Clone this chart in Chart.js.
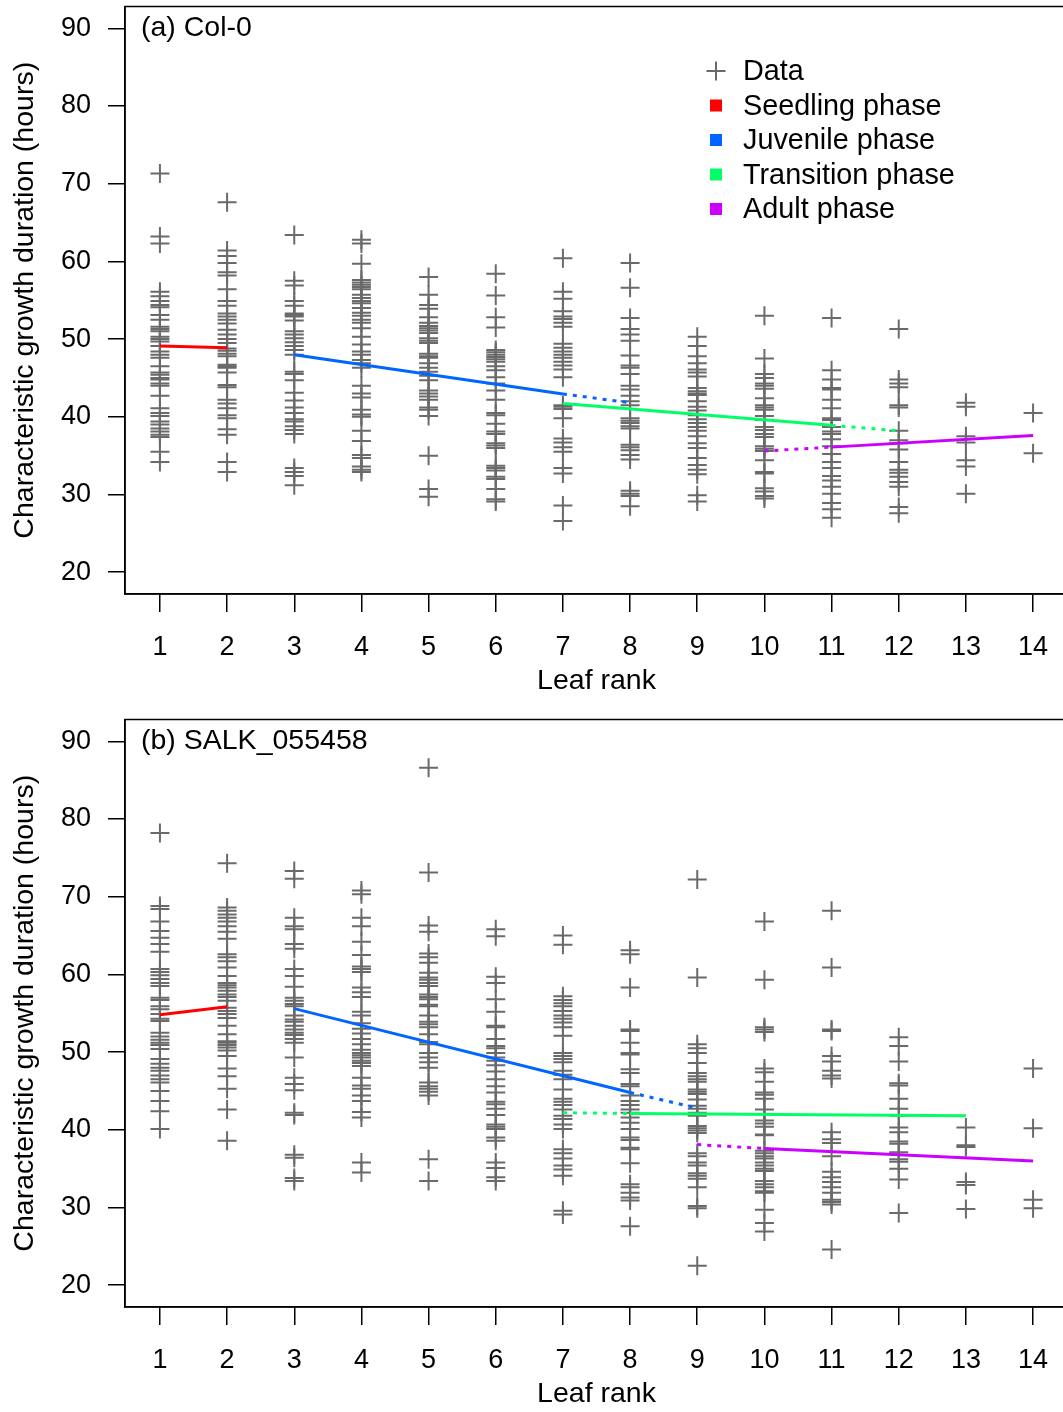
<!DOCTYPE html>
<html>
<head>
<meta charset="utf-8">
<script src="https://cdn.jsdelivr.net/npm/chart.js@4/dist/chart.umd.min.js"></script>
<style>
  html, body { margin: 0; padding: 0; background: #fff; overflow: hidden; }
  .panel { position: absolute; left: 0; width: 1070px; height: 700px; }
</style>
</head>
<body>
<div class="panel" style="top:0px"><canvas id="chartA" width="1070" height="700"></canvas></div>
<div class="panel" style="top:713px"><canvas id="chartB" width="1070" height="700"></canvas></div>
<script>
// leaf ranks and axis ticks
const leafRanks = [1, 2, 3, 4, 5, 6, 7, 8, 9, 10, 11, 12, 13, 14];
const yTicks = [20, 30, 40, 50, 60, 70, 80, 90];

// (a) Col-0 : growth durations per leaf rank (hours)
const colA = [
  [71.3,63.2,62.3,56.1,55.5,54.9,54.4,54.1,53.1,52.5,51.6,51.3,51.0,50.3,50.0,49.7,49.1,48.4,48.0,47.6,46.5,45.7,45.4,45.0,44.8,44.3,44.0,42.7,41.1,40.5,40.1,39.4,39.0,38.5,38.1,37.7,37.4,35.5,34.2],
  [67.6,61.4,60.7,59.8,58.6,58.2,56.4,54.9,54.3,53.3,52.9,52.5,52.0,51.2,50.6,50.0,49.5,48.8,48.5,48.1,47.8,46.7,46.5,46.3,45.7,44.1,43.8,42.2,41.7,41.1,40.2,39.8,38.4,37.7,34.2,32.9],
  [63.4,57.5,56.9,54.9,54.3,53.3,53.1,52.9,52.4,51.0,50.6,50.1,49.6,49.1,48.6,48.0,45.8,45.5,44.7,43.1,42.1,41.2,40.5,39.7,39.4,38.8,38.3,37.8,33.4,32.9,32.4,31.2],
  [62.8,62.3,59.7,57.6,57.3,57.0,56.7,56.4,55.7,55.3,54.9,54.6,54.0,53.4,53.0,52.5,52.1,51.4,50.3,49.3,48.4,48.0,47.3,46.9,46.3,44.0,43.0,42.5,40.9,40.3,40.0,38.2,36.9,35.1,34.7,33.6,33.2,32.9],
  [58.0,55.7,54.4,53.9,52.8,52.1,51.7,51.4,51.1,50.8,50.1,49.8,49.5,48.1,47.8,47.6,46.9,46.3,45.8,45.3,44.7,43.4,43.0,42.6,42.2,41.2,40.9,40.1,35.0,30.7,29.7],
  [58.4,55.6,52.8,51.5,48.6,48.3,48.0,47.7,47.4,47.1,46.5,46.0,45.1,44.3,43.4,42.2,40.5,40.2,39.1,38.1,37.8,36.6,36.3,36.0,33.7,33.4,33.1,32.3,32.0,30.7,29.4,29.1],
  [60.4,56.1,55.2,53.6,52.9,52.6,52.1,51.6,49.4,48.9,48.4,48.0,47.6,47.1,46.6,46.1,45.1,41.5,41.3,41.0,39.8,37.2,36.7,36.1,35.5,33.4,32.7,28.6,26.6],
  [59.8,56.6,52.7,51.3,50.6,49.8,47.9,46.6,46.3,45.5,44.0,43.5,42.7,42.0,41.5,39.8,39.5,39.2,38.8,38.5,36.4,36.1,35.7,35.1,34.5,30.5,30.1,29.8,28.5],
  [50.3,49.1,47.8,46.9,46.1,45.7,45.2,43.7,43.3,43.0,42.8,42.0,41.3,40.8,40.2,39.7,39.2,38.7,38.2,37.5,36.6,36.0,34.7,33.8,33.2,32.6,29.9,29.1],
  [53.0,47.5,45.5,45.0,44.3,44.0,43.6,42.4,41.5,41.2,40.9,40.1,39.6,38.7,38.3,37.8,37.4,36.2,35.9,35.6,34.4,32.9,32.7,30.8,30.4,29.8,29.5],
  [52.7,46.0,44.8,43.7,43.5,42.2,41.1,39.8,39.6,38.7,38.1,37.8,37.1,36.2,35.2,34.2,33.4,32.4,31.8,31.0,30.1,28.9,28.1,27.0],
  [51.3,44.8,44.3,43.8,41.5,41.2,38.2,37.0,36.6,35.8,34.2,33.2,32.8,32.3,31.6,31.0,28.4,27.6],
  [41.8,41.3,37.5,36.7,34.4,33.6,30.1],
  [40.5,35.3]
];

// (b) SALK_055458 : growth durations per leaf rank (hours)
const colB = [
  [78.2,68.8,68.4,66.8,65.6,64.7,63.9,62.9,60.7,60.3,59.9,59.4,58.9,58.5,57.0,56.7,55.9,55.5,54.9,54.3,54.0,52.5,52.0,51.6,51.2,50.9,50.4,49.1,48.5,48.0,47.6,47.0,46.5,46.1,45.0,43.7,42.4,40.1],
  [74.3,68.6,68.2,67.7,67.3,66.8,66.2,65.5,64.6,62.6,62.2,61.7,60.9,59.8,58.9,58.6,58.3,57.9,57.4,57.1,56.6,55.7,55.3,54.9,54.4,53.4,52.3,51.4,51.2,50.9,50.6,50.2,49.5,47.9,46.9,45.3,42.6,38.6],
  [73.3,72.3,67.3,66.2,65.8,63.9,63.3,60.7,59.8,58.4,57.0,56.6,56.2,55.9,54.7,54.2,53.9,53.4,52.9,52.5,52.2,51.7,51.2,49.3,46.7,45.9,45.1,42.2,41.9,36.8,36.4,33.8,33.4],
  [70.8,70.3,67.3,66.2,64.2,62.5,61.0,60.7,60.3,58.3,57.7,57.1,55.2,54.7,53.7,53.0,52.4,51.7,51.0,50.3,49.9,49.6,49.3,48.9,48.6,48.2,46.7,45.7,45.3,44.4,43.7,42.3,41.6,35.8,34.5],
  [86.6,73.1,66.3,65.5,62.7,62.2,61.5,60.2,59.6,59.3,58.9,58.5,57.4,57.1,56.8,56.1,55.9,54.7,53.9,53.6,53.2,52.3,51.3,51.0,49.9,49.3,48.7,48.0,46.1,45.6,45.3,44.9,44.4,36.2,33.4],
  [65.8,64.9,59.7,58.9,56.8,55.2,53.4,53.2,51.7,50.8,50.5,49.9,49.3,48.9,48.3,47.5,46.5,45.6,44.8,43.6,43.3,42.7,41.9,40.7,40.4,40.1,39.0,38.6,35.8,35.1,33.9,33.4],
  [65.0,63.8,57.2,56.7,56.3,55.9,55.3,54.7,54.3,53.8,53.2,52.1,49.9,49.5,49.1,48.7,47.6,47.1,46.5,45.2,44.0,43.6,43.2,42.6,41.8,41.4,40.7,40.1,37.5,37.0,36.3,35.4,34.9,34.1,29.6,29.1],
  [63.1,62.6,58.3,52.9,52.7,51.2,49.9,49.7,47.8,47.3,45.9,45.6,44.4,43.7,43.2,42.6,42.2,41.6,40.9,40.1,39.0,38.7,37.7,37.5,35.7,33.0,32.6,31.9,31.3,30.9,27.6],
  [72.2,59.6,51.0,50.5,49.9,48.6,47.3,46.9,46.5,46.2,45.2,44.9,44.6,43.9,43.1,42.7,42.2,41.8,40.5,40.2,39.9,39.6,37.0,36.6,35.8,35.4,34.4,34.1,33.7,32.6,30.2,29.9,22.5],
  [66.8,59.3,53.2,52.9,52.6,47.9,47.4,46.2,44.8,44.5,44.0,42.6,42.0,41.2,40.8,40.4,39.4,39.3,37.3,37.0,36.6,36.3,35.8,35.4,35.0,34.7,33.4,33.0,32.6,32.1,31.9,29.7,28.0,26.9],
  [68.2,60.9,52.9,52.7,49.5,48.8,47.6,47.0,46.6,39.7,38.8,38.3,36.6,34.6,33.9,33.3,32.6,31.9,31.0,30.7,30.4,24.6],
  [51.9,50.8,48.8,46.0,45.7,44.0,42.7,41.8,40.3,39.7,38.5,38.2,37.1,36.2,35.9,35.0,33.6,29.3],
  [40.3,38.0,37.8,33.3,32.9,29.8],
  [47.9,40.2,31.0,29.9]
];

// phase fits (end points): ranks and fitted values
const fitA = [
  { phase: 'seedling',   ranks: [1, 2],   values: [49.1, 48.9],  dotted: false },
  { phase: 'juvenile',   ranks: [3, 7],   values: [48.0, 42.95], dotted: false },
  { phase: 'juvenile',   ranks: [7, 8],   values: [42.95, 41.8], dotted: true },
  { phase: 'transition', ranks: [7, 11],  values: [41.7, 38.9],  dotted: false },
  { phase: 'transition', ranks: [11, 12], values: [38.9, 38.2],  dotted: true },
  { phase: 'adult',      ranks: [10, 11], values: [35.6, 36.1],  dotted: true },
  { phase: 'adult',      ranks: [11, 14], values: [36.1, 37.6],  dotted: false }
];
const fitB = [
  { phase: 'seedling',   ranks: [1, 2],   values: [54.8, 55.85], dotted: false },
  { phase: 'juvenile',   ranks: [3, 8],   values: [55.6, 44.8],  dotted: false },
  { phase: 'juvenile',   ranks: [8, 9],   values: [44.8, 42.8],  dotted: true },
  { phase: 'transition', ranks: [7, 8],   values: [42.2, 42.1],  dotted: true },
  { phase: 'transition', ranks: [8, 13],  values: [42.1, 41.8],  dotted: false },
  { phase: 'adult',      ranks: [9, 10],  values: [38.1, 37.6],  dotted: true },
  { phase: 'adult',      ranks: [10, 14], values: [37.6, 36.0],  dotted: false }
];

const phaseColors = { seedling: '#ff0000', juvenile: '#0066ff', transition: '#00ff66', adult: '#cc00ff' };
const legendItems = [
  ['Data', null],
  ['Seedling phase', 'seedling'],
  ['Juvenile phase', 'juvenile'],
  ['Transition phase', 'transition'],
  ['Adult phase', 'adult']
];
const GRAY = '#6a6a6a';
const FONT = "'Liberation Sans', Arial, sans-serif";

// box + panel label + legend
const framePlugin = {
  id: 'frame',
  afterDraw(chart, args, opts) {
    const ctx = chart.ctx, a = chart.chartArea;
    ctx.save();
    ctx.strokeStyle = '#000';
    ctx.lineWidth = 1.5;
    ctx.strokeRect(a.left, a.top, a.right - a.left, a.bottom - a.top);

    ctx.fillStyle = '#000';
    ctx.font = '28.5px ' + FONT;
    ctx.textBaseline = 'middle';
    ctx.textAlign = 'left';
    ctx.fillText(opts.label, 141, a.top + 22);

    if (opts.legend) {
      ctx.font = '28.8px ' + FONT;
      legendItems.forEach((item, i) => {
        const cy = 71 + i * 34.5;
        const cx = 716;
        if (item[1] === null) {
          ctx.strokeStyle = GRAY;
          ctx.lineWidth = 2;
          ctx.beginPath();
          ctx.moveTo(cx - 9.5, cy); ctx.lineTo(cx + 9.5, cy);
          ctx.moveTo(cx, cy - 9.5); ctx.lineTo(cx, cy + 9.5);
          ctx.stroke();
        } else {
          ctx.fillStyle = phaseColors[item[1]];
          ctx.fillRect(cx - 6, cy - 6, 12, 12);
        }
        ctx.fillStyle = '#000';
        ctx.fillText(item[0], 743, cy + 1.5);
      });
    }
    ctx.restore();
  }
};

function makeChart(id, values, fits, label, legend) {
  const points = [];
  values.forEach((vals, i) => vals.forEach(v => points.push({ x: leafRanks[i], y: v })));

  const datasets = [{
    label: 'Data',
    data: points,
    showLine: false,
    pointStyle: 'cross',
    pointRadius: 9.5,
    pointBorderWidth: 2,
    pointBorderColor: GRAY,
    borderColor: GRAY,
    order: 1
  }];
  fits.forEach(f => {
    datasets.push({
      label: f.phase,
      data: f.ranks.map((r, i) => ({ x: r, y: f.values[i] })),
      showLine: true,
      borderColor: phaseColors[f.phase],
      borderWidth: 3,
      borderDash: f.dotted ? [4, 6] : [],
      pointRadius: 0,
      fill: false,
      order: 0
    });
  });

  return new Chart(document.getElementById(id), {
    type: 'scatter',
    data: { datasets },
    plugins: [framePlugin],
    options: {
      responsive: false,
      animation: false,
      devicePixelRatio: 1,
      layout: { autoPadding: false, padding: { top: 6.5, right: 2, left: 0, bottom: 0 } },
      plugins: {
        legend: { display: false },
        tooltip: { enabled: false },
        frame: { label, legend }
      },
      scales: {
        x: {
          type: 'linear',
          min: 0.48,
          max: 14.52,
          afterBuildTicks: s => { s.ticks = leafRanks.map(v => ({ value: v })); },
          afterFit: s => { s.height = 106; s.paddingLeft = 0; s.paddingRight = 0; },
          ticks: { font: { family: FONT, size: 27 }, color: '#000', padding: 19, autoSkip: false, maxRotation: 0 },
          grid: { drawOnChartArea: false, color: '#000', lineWidth: 1.5, tickLength: 18 },
          border: { display: true, color: '#000', width: 1.5 },
          title: { display: true, text: 'Leaf rank', color: '#000', font: { family: FONT, size: 28.5 }, padding: { top: 0, bottom: 2 } }
        },
        y: {
          type: 'linear',
          min: 17.2,
          max: 92.8,
          afterBuildTicks: s => { s.ticks = yTicks.map(v => ({ value: v })); },
          afterFit: s => { s.width = 125; s.paddingTop = 0; s.paddingBottom = 0; },
          ticks: { font: { family: FONT, size: 27 }, color: '#000', padding: 17 },
          grid: { drawOnChartArea: false, color: '#000', lineWidth: 1.5, tickLength: 17 },
          border: { display: true, color: '#000', width: 1.5 },
          title: { display: true, text: 'Characteristic growth duration (hours)', color: '#000', font: { family: FONT, size: 28.5 }, padding: { top: 8, bottom: 0 } }
        }
      }
    }
  });
}

makeChart('chartA', colA, fitA, '(a) Col-0', true);
makeChart('chartB', colB, fitB, '(b) SALK_055458', false);
</script>
</body>
</html>
